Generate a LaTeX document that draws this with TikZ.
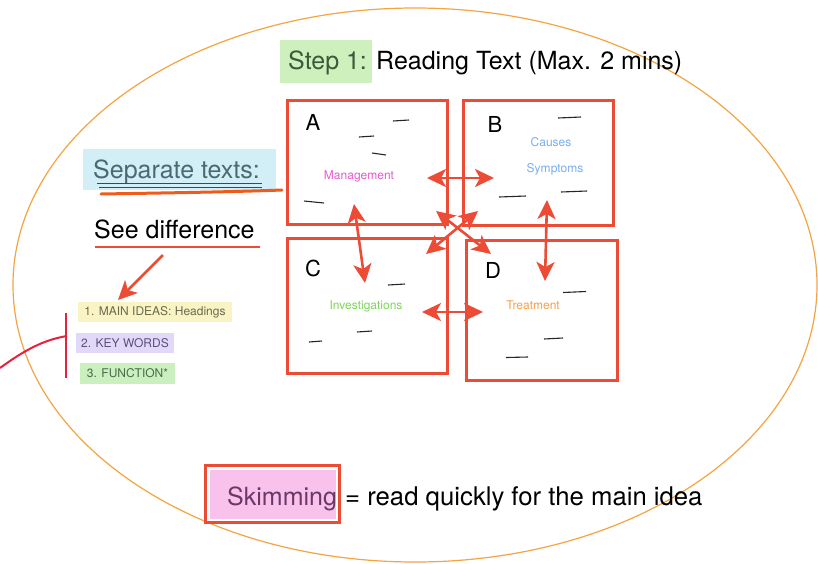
\documentclass[tikz,border=0pt]{standalone}
\usepackage{fontspec}
\setmainfont{TeX Gyre Heros}
\usetikzlibrary{arrows.meta}
\definecolor{boxred}{HTML}{EC4C36}
\definecolor{ellor}{HTML}{F5A442}
\definecolor{magtxt}{HTML}{E85AD0}
\definecolor{bluetxt}{HTML}{78AEF0}
\definecolor{greentxt}{HTML}{7FD65A}
\definecolor{oratxt}{HTML}{F5A04A}
\definecolor{stepbg}{HTML}{CDF0BD}
\definecolor{steptxt}{HTML}{3A5A3A}
\definecolor{sepbg}{HTML}{D2EEF7}
\definecolor{septxt}{HTML}{4A6A70}
\definecolor{ylwbg}{HTML}{FAF3C4}
\definecolor{ylwtxt}{HTML}{6A6A50}
\definecolor{lavbg}{HTML}{E2D8F8}
\definecolor{lavtxt}{HTML}{5A5080}
\definecolor{grnbg}{HTML}{CCEFC0}
\definecolor{grntxt}{HTML}{4A6A4A}
\definecolor{pinkbg}{HTML}{F8C2EC}
\definecolor{pinktxt}{HTML}{6A3868}
\definecolor{crim}{HTML}{E8203C}
\definecolor{brush}{HTML}{F05A1A}
\definecolor{ulin}{HTML}{3A4A50}
\begin{document}
\begin{tikzpicture}[x=1pt,y=-1pt,
  bigtext/.style={font=\fontsize{25}{30}\selectfont, inner sep=0pt, anchor=base west},
  letter/.style={font=\fontsize{22}{26}\selectfont, inner sep=0pt},
  smalltext/.style={font=\fontsize{12}{14}\selectfont, inner sep=0pt},
  bgbox/.style={inner sep=0pt, draw=none},
  redbox/.style={draw=boxred, line width=3pt, inner sep=0pt},
  dashln/.style={line width=1.1pt, black!85},
  dbl/.style={draw=boxred, line width=2.6pt, {Stealth[length=19pt,width=18pt,inset=5pt]}-{Stealth[length=19pt,width=18pt,inset=5pt]}}]
\useasboundingbox (0,0) rectangle (818,563);
\fill[white] (0,0) rectangle (818,563);

% big ellipse
\draw[ellor, line width=1.2pt] (415,285) ellipse [x radius=402pt, y radius=277pt];

% title
\node[bgbox, fill=stepbg, minimum width=92pt, minimum height=43pt] (stepbg) at (326,61.5) {};
\node[bigtext, text=steptxt] (step) at (288,69) {Step 1:};
\node[bigtext] (title) at (376,69) {Reading Text (Max. 2 mins)};

% four boxes
\node[redbox, minimum width=160pt, minimum height=124pt] (A) at (367,162) {};
\node[redbox, minimum width=150pt, minimum height=125pt] (B) at (538,162.5) {};
\node[redbox, minimum width=160pt, minimum height=135pt] (C) at (367,305.5) {};
\node[redbox, minimum width=151pt, minimum height=140pt] (D) at (541.5,310) {};

\node[letter] (la) at (313,122) {A};
\node[letter] (lb) at (495,124) {B};
\node[letter] (lc) at (313,268) {C};
\node[letter] (ld) at (493,270) {D};

\node[smalltext, text=magtxt] (mgmt) at (359,176) {Management};
\node[smalltext, text=bluetxt] (caus) at (551,142) {Causes};
\node[smalltext, text=bluetxt] (symp) at (555,169) {Symptoms};
\node[smalltext, text=greentxt] (inv) at (366,306) {Investigations};
\node[smalltext, text=oratxt] (treat) at (533,305) {Treatment};

% dashes
\draw[dashln] (393,121) -- (409,120);
\draw[dashln] (359,137) -- (374,136);
\draw[dashln] (372,153) -- (386,155);
\draw[dashln] (304,201) -- (324,203);
\draw[dashln] (558,118) -- (581,117);
\draw[dashln] (499,197) -- (526,196);
\draw[dashln] (561,192) -- (587,191);
\draw[dashln] (388,285) -- (405,284);
\draw[dashln] (357,332) -- (372,331);
\draw[dashln] (309,342) -- (322,341);
\draw[dashln] (563,292.5) -- (586,291.5);
\draw[dashln] (544,339) -- (563,338);
\draw[dashln] (506,357.5) -- (528,357);

% arrows between boxes
\coordinate (ab1) at (427,178); \coordinate (ab2) at (494,178);
\coordinate (ac1) at (354,204); \coordinate (ac2) at (365,283);
\coordinate (bd1) at (547,200); \coordinate (bd2) at (545,281);
\coordinate (cd1) at (422,312); \coordinate (cd2) at (483,312);
\coordinate (x1) at (436,211); \coordinate (x2) at (491,254);
\coordinate (x3) at (478,211); \coordinate (x4) at (426,254);
\draw[dbl] (ab1) -- (ab2);
\draw[dbl] (ac1) -- (ac2);
\draw[dbl] (bd1) -- (bd2);
\draw[dbl] (cd1) -- (cd2);
\draw[dbl] (x1) -- (x2);
\draw[dbl] (x3) -- (x4);

% left side
\node[bgbox, fill=sepbg, minimum width=193pt, minimum height=41pt] (sepbg) at (179.5,169.5) {};
\node[bigtext, text=septxt] (sep) at (93,178) {Separate texts:};
\draw[ulin, line width=1pt] (97,183) -- (262,183);
\draw[ulin, line width=1pt] (99,187) -- (262,187);
\draw[brush, line width=3pt, line cap=round] (101,194) .. controls (160,193) and (230,192) .. (282,190);

\node[bigtext] (see) at (94,238) {See difference};
\draw[boxred, line width=1.3pt] (95,247) -- (260,247);

\node[bgbox, fill=ylwbg, minimum width=154pt, minimum height=20pt] (m1) at (155,312) {};
\node[smalltext, text=ylwtxt] at (m1) {1. MAIN IDEAS: Headings};
\node[bgbox, fill=lavbg, minimum width=98pt, minimum height=20pt] (m2) at (125,343) {};
\node[smalltext, text=lavtxt] at (m2) {2. KEY WORDS};
\node[bgbox, fill=grnbg, minimum width=95pt, minimum height=21pt] (m3) at (127.5,373.5) {};
\node[smalltext, text=grntxt] at (m3) {3. FUNCTION*};

\coordinate (sd1) at (163,255); \coordinate (sd2) at (118,300);
\draw[boxred, line width=2.6pt, -{Stealth[length=19pt,width=18pt,inset=5pt]}] (sd1) -- (sd2);

\coordinate (vt) at (66,313); \coordinate (vb) at (66,378);
\draw[crim, line width=2pt] (vt) -- (vb);
\coordinate (cs) at (0,368); \coordinate (ce) at (67,336);
\draw[crim, line width=2pt] (cs) .. controls (22,352) and (42,340) .. (ce);

% skimming
\node[draw=boxred, line width=2.5pt, fill=white, minimum width=134pt, minimum height=57pt, inner sep=0pt] (skbox) at (272.5,494) {};
\node[bgbox, fill=pinkbg, minimum width=126pt, minimum height=49pt] (skin) at (skbox) {};
\node[bigtext, text=pinktxt] (skim) at (227,505) {Skimming};
\node[bigtext, font=\fontsize{25.7}{30}\selectfont] (def) at (345,505) {= read quickly for the main idea};
\end{tikzpicture}
\end{document}
